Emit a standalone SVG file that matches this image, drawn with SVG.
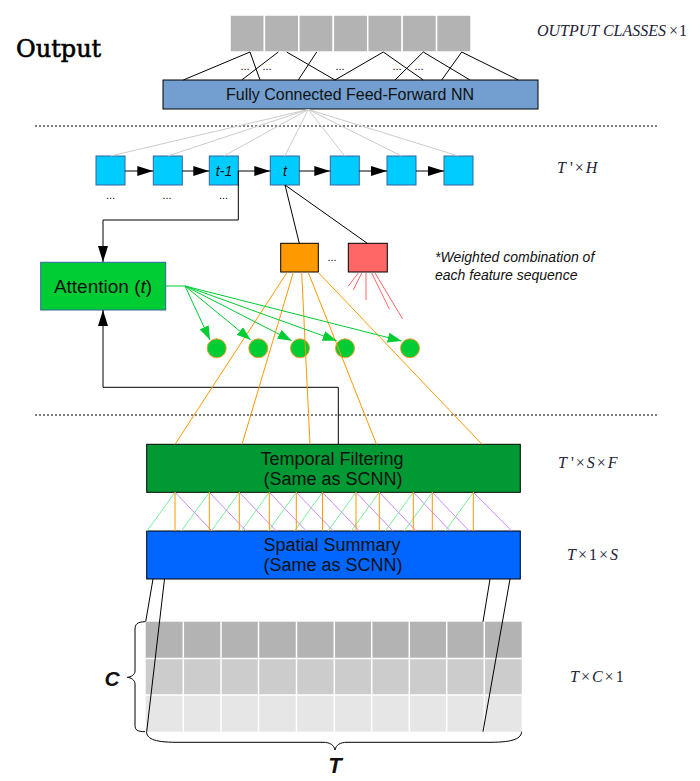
<svg xmlns="http://www.w3.org/2000/svg" width="700" height="781" viewBox="0 0 700 781">
<style>
.sans{font-family:"Liberation Sans",Arial,sans-serif;fill:#111}
.math{font-family:"Liberation Serif","Times New Roman",serif;font-size:16px;fill:#222238}
.it{font-style:italic}
.cell{fill:#b3b3b3;stroke:#fff;stroke-width:1.5}
.rnn{fill:#00ccff;stroke:#3465a4;stroke-width:1}
.thin{fill:none;stroke:#000;stroke-width:1}
.gray{stroke:#cccccc;stroke-width:1}
.or{stroke:#ff9900;stroke-width:1}
.rd{stroke:#ff6666;stroke-width:1}
.gr{stroke:#00cc33;stroke-width:1}
.lg{stroke:#77ee99;stroke-width:1}
.pu{stroke:#cc88ff;stroke-width:1}
.dot{stroke:#000;stroke-width:1;stroke-dasharray:2,2}
.dots{font-family:"Liberation Sans",Arial,sans-serif;font-size:11px;fill:#000;text-anchor:middle}
</style>
<defs>
<marker id="ab" markerUnits="userSpaceOnUse" markerWidth="16" markerHeight="10" refX="16" refY="5" orient="auto"><path d="M0,0 L16,5 L0,10 z" fill="#000"/></marker>
<marker id="ag" markerUnits="userSpaceOnUse" markerWidth="14" markerHeight="10" refX="14" refY="5" orient="auto"><path d="M0,0 L14,5 L0,10 z" fill="#00cc33"/></marker>
</defs>
<rect width="700" height="781" fill="#fff"/>

<text x="16" y="57" font-family="DejaVu Serif,serif" font-size="24" fill="#000" stroke="#000" stroke-width="0.6">Output</text>

<g id="output-classes">
<rect class="cell" x="230" y="15" width="34.43" height="37"/>
<rect class="cell" x="264.43" y="15" width="34.43" height="37"/>
<rect class="cell" x="298.86" y="15" width="34.43" height="37"/>
<rect class="cell" x="333.29" y="15" width="34.43" height="37"/>
<rect class="cell" x="367.72" y="15" width="34.43" height="37"/>
<rect class="cell" x="402.15" y="15" width="34.43" height="37"/>
<rect class="cell" x="436.58" y="15" width="34.43" height="37"/>
</g>
<text class="math" x="537" y="36"><tspan class="it">OUTPUT CLASSES</tspan><tspan dx="3">×</tspan><tspan dx="1">1</tspan></text>

<g id="fc">
<rect x="163" y="80" width="375" height="29" fill="#729fcf" stroke="#000" stroke-width="1"/>
<text class="sans" x="350" y="100" font-size="16" text-anchor="middle">Fully Connected Feed-Forward NN</text>
</g>

<g id="rnn-0"><rect class="rnn" x="96" y="156" width="29" height="29"/></g>
<g id="rnn-1"><rect class="rnn" x="153.3" y="156" width="29" height="29"/></g>
<g id="rnn-2"><rect class="rnn" x="209.3" y="156" width="29" height="29"/><text class="sans it" x="224" y="176" font-size="14" text-anchor="middle">t-1</text></g>
<g id="rnn-3"><rect class="rnn" x="270.3" y="156" width="29" height="29"/><text class="sans it" x="285" y="176" font-size="14" text-anchor="middle">t</text></g>
<g id="rnn-4"><rect class="rnn" x="330.3" y="156" width="29" height="29"/></g>
<g id="rnn-5"><rect class="rnn" x="387" y="156" width="29" height="29"/></g>
<g id="rnn-6"><rect class="rnn" x="444" y="156" width="29" height="29"/></g>
<text class="dots" x="110.5" y="199">...</text>
<text class="dots" x="167" y="199">...</text>
<text class="dots" x="223.5" y="199">...</text>
<text class="math" x="557" y="173"><tspan class="it">T</tspan> '<tspan dx="2">×</tspan><tspan class="it" dx="2">H</tspan></text>

<g id="attention">
<rect x="40.7" y="262.3" width="125" height="47.7" fill="#00cc33" stroke="#3465a4" stroke-width="1"/>
<text class="sans" x="103" y="293" font-size="19" text-anchor="middle">Attention (<tspan class="it">t</tspan>)</text>
</g>

<g id="feat-orange"><rect x="280.7" y="243.3" width="37.6" height="28.7" fill="#ff9900" stroke="#000" stroke-width="1"/></g>
<text class="dots" x="332" y="261">...</text>
<g id="feat-red"><rect x="348.3" y="243.3" width="39" height="28.7" fill="#ff6666" stroke="#000" stroke-width="1"/></g>

<text class="sans it" x="435" y="262" font-size="14" fill="#333">*Weighted combination of</text>
<text class="sans it" x="435" y="280" font-size="14" fill="#333">each feature sequence</text>

<g id="weights">
<circle cx="216.7" cy="348.3" r="9.5" fill="#00cc33" stroke="#f0a030" stroke-width="1"/>
<circle cx="258.3" cy="348.3" r="9.5" fill="#00cc33" stroke="#f0a030" stroke-width="1"/>
<circle cx="300" cy="348.3" r="9.5" fill="#00cc33" stroke="#f0a030" stroke-width="1"/>
<circle cx="345" cy="348.3" r="9.5" fill="#00cc33" stroke="#f0a030" stroke-width="1"/>
<circle cx="410" cy="348.3" r="9.5" fill="#00cc33" stroke="#f0a030" stroke-width="1"/>
</g>

<g id="tf">
<rect x="146.7" y="444.3" width="373.6" height="48" fill="#009933" stroke="#000" stroke-width="1"/>
<text class="sans" x="332" y="465" font-size="18" text-anchor="middle">Temporal Filtering</text>
<text class="sans" x="333" y="485" font-size="18" text-anchor="middle">(Same as SCNN)</text>
</g>
<text class="math" x="558" y="468"><tspan class="it">T</tspan> '<tspan dx="2">×</tspan><tspan class="it" dx="2">S</tspan><tspan dx="2">×</tspan><tspan class="it" dx="2">F</tspan></text>

<g id="ss">
<rect x="146.7" y="531" width="373.6" height="48" fill="#0066ff" stroke="#000" stroke-width="1"/>
<text class="sans" x="332" y="551" font-size="18" text-anchor="middle">Spatial Summary</text>
<text class="sans" x="333" y="571" font-size="18" text-anchor="middle">(Same as SCNN)</text>
</g>
<text class="math" x="567" y="560"><tspan class="it">T</tspan><tspan dx="2">×</tspan><tspan dx="2">1</tspan><tspan dx="2">×</tspan><tspan class="it" dx="2">S</tspan></text>

<g id="input-grid">
<rect x="145.7" y="621.7" width="376" height="36.7" fill="#b3b3b3"/>
<rect x="145.7" y="658.4" width="376" height="36.7" fill="#cccccc"/>
<rect x="145.7" y="695.1" width="376" height="36.6" fill="#e6e6e6"/>
<g stroke="#fff" stroke-width="1.5">
<line x1="145.7" y1="658.4" x2="521.7" y2="658.4"/>
<line x1="145.7" y1="695.1" x2="521.7" y2="695.1"/>
<line x1="183.3" y1="621.7" x2="183.3" y2="731.7"/>
<line x1="221" y1="621.7" x2="221" y2="731.7"/>
<line x1="258.5" y1="621.7" x2="258.5" y2="731.7"/>
<line x1="296.5" y1="621.7" x2="296.5" y2="731.7"/>
<line x1="334.3" y1="621.7" x2="334.3" y2="731.7"/>
<line x1="371.7" y1="621.7" x2="371.7" y2="731.7"/>
<line x1="409.3" y1="621.7" x2="409.3" y2="731.7"/>
<line x1="446.7" y1="621.7" x2="446.7" y2="731.7"/>
<line x1="484.3" y1="621.7" x2="484.3" y2="731.7"/>
</g>
<path class="thin" d="M145,621.7 C137,622 135,624 135,630 V671 C135,675 131,677 127.3,677.3 C131,677.6 135,680 135,684 V725 C135,730 137,731.5 145,731.7"/>
<path class="thin" d="M146.5,731.7 C147,738 152,742.3 177,742.3 H323 C330,742.3 334,745 335,750 C336,745 340,742.3 347,742.3 H490 C515,742.3 521,738 521.7,731.7"/>
<text class="sans it" x="112" y="686" font-size="21" font-weight="bold" text-anchor="middle" fill="#000">C</text>
<text class="sans it" x="335" y="773" font-size="22" font-weight="bold" text-anchor="middle" fill="#000">T</text>
</g>
<text class="math" x="570" y="682"><tspan class="it">T</tspan><tspan dx="2">×</tspan><tspan class="it" dx="2">C</tspan><tspan dx="2">×</tspan><tspan dx="2">1</tspan></text>

<g id="connectors">
<line class="dot" x1="35" y1="126" x2="658" y2="126"/>
<line class="dot" x1="35" y1="415" x2="658" y2="415"/>

<g class="thin">
<line x1="250" y1="52" x2="183.3" y2="80"/>
<line x1="250" y1="52" x2="260" y2="80"/>
<line x1="278.3" y1="52" x2="241.7" y2="80"/>
<line x1="286.7" y1="52" x2="335" y2="80"/>
<line x1="316.7" y1="52" x2="298.3" y2="80"/>
<line x1="383.3" y1="52" x2="335" y2="80"/>
<line x1="383.3" y1="52" x2="423.3" y2="80"/>
<line x1="423.3" y1="52" x2="395" y2="80"/>
<line x1="423.3" y1="52" x2="470" y2="80"/>
<line x1="461.7" y1="52" x2="441.7" y2="80"/>
<line x1="461.7" y1="52" x2="518.3" y2="80"/>
</g>
<text class="dots" x="245" y="70">...</text>
<text class="dots" x="267" y="70">...</text>
<text class="dots" x="340" y="70">...</text>
<text class="dots" x="397" y="70">...</text>
<text class="dots" x="419" y="70">...</text>

<g class="gray">
<line x1="308.3" y1="109.5" x2="110.5" y2="156"/>
<line x1="308.3" y1="109.5" x2="167.8" y2="156"/>
<line x1="308.3" y1="109.5" x2="223.8" y2="156"/>
<line x1="308.3" y1="109.5" x2="284.8" y2="156"/>
<line x1="308.3" y1="109.5" x2="344.8" y2="156"/>
<line x1="308.3" y1="109.5" x2="401.5" y2="156"/>
<line x1="308.3" y1="109.5" x2="458.5" y2="156"/>
</g>

<g class="thin" marker-end="url(#ab)">
<line x1="125" y1="171" x2="153.3" y2="171"/>
<line x1="182.3" y1="171" x2="209.3" y2="171"/>
<line x1="238.3" y1="171" x2="270.3" y2="171"/>
<line x1="299.3" y1="171" x2="330.3" y2="171"/>
<line x1="359.3" y1="171" x2="387" y2="171"/>
<line x1="416" y1="171" x2="444" y2="171"/>
</g>

<path class="thin" d="M238.3,171 V220 H103 V262" marker-end="url(#ab)"/>
<path class="thin" d="M338.3,444.3 V387.3 H103 V310" marker-end="url(#ab)"/>

<g class="thin">
<line x1="285" y1="185" x2="299.3" y2="243.3"/>
<line x1="285" y1="185" x2="367.3" y2="243.3"/>
</g>

<g class="rd">
<line x1="358.3" y1="273" x2="348.3" y2="286"/>
<line x1="361.7" y1="273" x2="353.3" y2="290"/>
<line x1="366" y1="273" x2="366" y2="300"/>
<line x1="371.7" y1="273" x2="389.3" y2="309"/>
<line x1="375" y1="273" x2="402.7" y2="319"/>
</g>

<g class="or">
<line x1="287" y1="272.5" x2="175" y2="444.3"/>
<line x1="293.3" y1="272.5" x2="242" y2="444.3"/>
<line x1="301.7" y1="272.5" x2="310" y2="444.3"/>
<line x1="308.3" y1="272.5" x2="376.5" y2="444.3"/>
<line x1="318.3" y1="272.5" x2="482" y2="444.3"/>
</g>

<line class="gr" x1="166" y1="286" x2="185" y2="286"/>
<g class="gr" marker-end="url(#ag)">
<line x1="185" y1="286" x2="210" y2="340"/>
<line x1="185" y1="286" x2="250.7" y2="340"/>
<line x1="185" y1="286" x2="291.7" y2="340.7"/>
<line x1="185" y1="286" x2="336.7" y2="340.7"/>
<line x1="185" y1="286" x2="401.7" y2="341"/>
</g>

<g class="lg">
<line x1="175" y1="492.3" x2="147" y2="531"/>
<line x1="209.3" y1="492.3" x2="181.3" y2="531"/>
<line x1="239.3" y1="492.3" x2="211.3" y2="531"/>
<line x1="269.3" y1="492.3" x2="241.3" y2="531"/>
<line x1="296.3" y1="492.3" x2="268.3" y2="531"/>
<line x1="322.5" y1="492.3" x2="294.5" y2="531"/>
<line x1="356" y1="492.3" x2="328" y2="531"/>
<line x1="379.3" y1="492.3" x2="351.3" y2="531"/>
<line x1="413.3" y1="492.3" x2="385.3" y2="531"/>
<line x1="432.3" y1="492.3" x2="404.3" y2="531"/>
<line x1="473.3" y1="492.3" x2="445.3" y2="531"/>
</g>
<g class="pu">
<line x1="175" y1="492.3" x2="212" y2="531"/>
<line x1="209.3" y1="492.3" x2="246.3" y2="531"/>
<line x1="239.3" y1="492.3" x2="276.3" y2="531"/>
<line x1="269.3" y1="492.3" x2="306.3" y2="531"/>
<line x1="296.3" y1="492.3" x2="333.3" y2="531"/>
<line x1="322.5" y1="492.3" x2="359.5" y2="531"/>
<line x1="356" y1="492.3" x2="393" y2="531"/>
<line x1="379.3" y1="492.3" x2="416.3" y2="531"/>
<line x1="413.3" y1="492.3" x2="450.3" y2="531"/>
<line x1="432.3" y1="492.3" x2="469.3" y2="531"/>
<line x1="473.3" y1="492.3" x2="511.7" y2="531"/>
</g>
<g class="or">
<line x1="175" y1="492.3" x2="175" y2="531"/>
<line x1="209.3" y1="492.3" x2="209.3" y2="531"/>
<line x1="239.3" y1="492.3" x2="239.3" y2="531"/>
<line x1="269.3" y1="492.3" x2="269.3" y2="531"/>
<line x1="296.3" y1="492.3" x2="296.3" y2="531"/>
<line x1="322.5" y1="492.3" x2="322.5" y2="531"/>
<line x1="356" y1="492.3" x2="356" y2="531"/>
<line x1="379.3" y1="492.3" x2="379.3" y2="531"/>
<line x1="413.3" y1="492.3" x2="413.3" y2="531"/>
<line x1="432.3" y1="492.3" x2="432.3" y2="531"/>
<line x1="473.3" y1="492.3" x2="473.3" y2="531"/>
</g>

<g class="thin">
<line x1="153" y1="579" x2="145.7" y2="621.7"/>
<line x1="164.5" y1="579" x2="146.7" y2="731.7"/>
<line x1="490" y1="579" x2="483" y2="621.7"/>
<line x1="510" y1="579" x2="483" y2="731.7"/>
</g>
</g>
</svg>
